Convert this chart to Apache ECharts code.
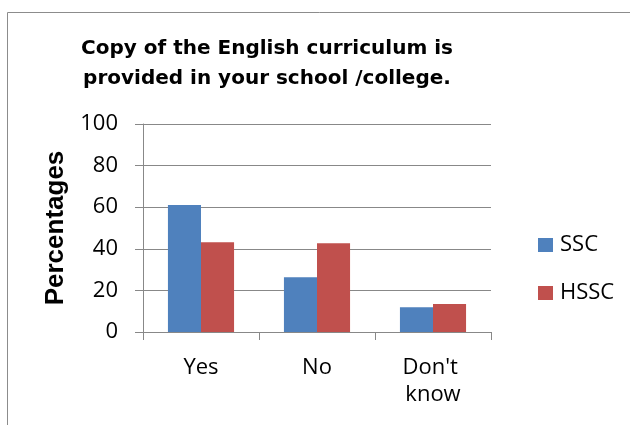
<!DOCTYPE html>
<html>
<head>
<meta charset="utf-8">
<script src="https://cdn.jsdelivr.net/npm/echarts@6/dist/echarts.min.js"></script>
<style>html,body{margin:0;padding:0;background:#fff;}#c{width:630px;height:425px;}</style>
</head>
<body>
<div id="c"></div>
<script>
var categories = ['Yes', 'No', "Don't know"];
var sscValues = [61.0, 26.3, 11.9];
var hsscValues = [43.2, 42.7, 13.5];
var yTicks = [0, 20, 40, 60, 80, 100];
var titleText = 'Copy of the English curriculum is\nprovided in your school /college.';

var chart = echarts.init(document.getElementById('c'), null, {renderer: 'canvas'});
var gridColor = '#888888';
chart.setOption({
  animation: false,
  backgroundColor: '#ffffff',
  graphic: [
    {type: 'rect', z: -10, shape: {x: 7.5, y: 12.5, width: 800, height: 600},
     style: {fill: 'none', stroke: '#8c8c8c', lineWidth: 1}},
    {type: 'text', x: 267, y: 34,
     style: {text: titleText, textAlign: 'center', textVerticalAlign: 'top',
       font: 'bold 20px "DejaVu Sans"', lineHeight: 30, fill: '#000'}}
  ],
  grid: {left: 143, right: 139, top: 124, bottom: 93},
  legend: {
    orient: 'vertical', left: 533, top: 226, itemWidth: 15, itemHeight: 14, itemGap: 20,
    icon: 'rect',
    textStyle: {fontFamily: 'Open Sans', fontSize: 22, lineHeight: 28, color: '#000', padding: [0,0,0,2]},
    data: ['SSC', 'HSSC']
  },
  xAxis: {
    type: 'category', data: categories,
    axisLine: {lineStyle: {color: gridColor, width: 1}},
    axisTick: {show: true, length: 8, alignWithLabel: false, lineStyle: {color: gridColor}},
    axisLabel: {margin: 22, fontFamily: 'Open Sans', fontSize: 22, lineHeight: 27, color: '#000',
      width: 80, overflow: 'break', interval: 0}
  },
  yAxis: {
    type: 'value', min: 0, max: 100, interval: 20,
    name: 'Percentages', nameLocation: 'middle', nameGap: 74, nameRotate: 90,
    nameTextStyle: {fontFamily: 'Liberation Sans', fontWeight: 'bold', fontSize: 26, color: '#000'},
    axisLine: {show: true, lineStyle: {color: gridColor, width: 1}},
    axisTick: {show: true, length: 8, lineStyle: {color: gridColor}},
    splitLine: {show: true, lineStyle: {color: gridColor, width: 1}},
    axisLabel: {margin: 25, fontFamily: 'Open Sans', fontSize: 22, color: '#000',
      formatter: function (v) { return yTicks.indexOf(v) >= 0 ? String(v) : ''; }}
  },
  series: [
    {name: 'SSC', type: 'bar', data: sscValues, barGap: '0%', barCategoryGap: '43%',
     itemStyle: {color: '#4F81BD'}},
    {name: 'HSSC', type: 'bar', data: hsscValues, barGap: '0%', barCategoryGap: '43%',
     itemStyle: {color: '#C0504D'}}
  ]
});
</script>
</body>
</html>
